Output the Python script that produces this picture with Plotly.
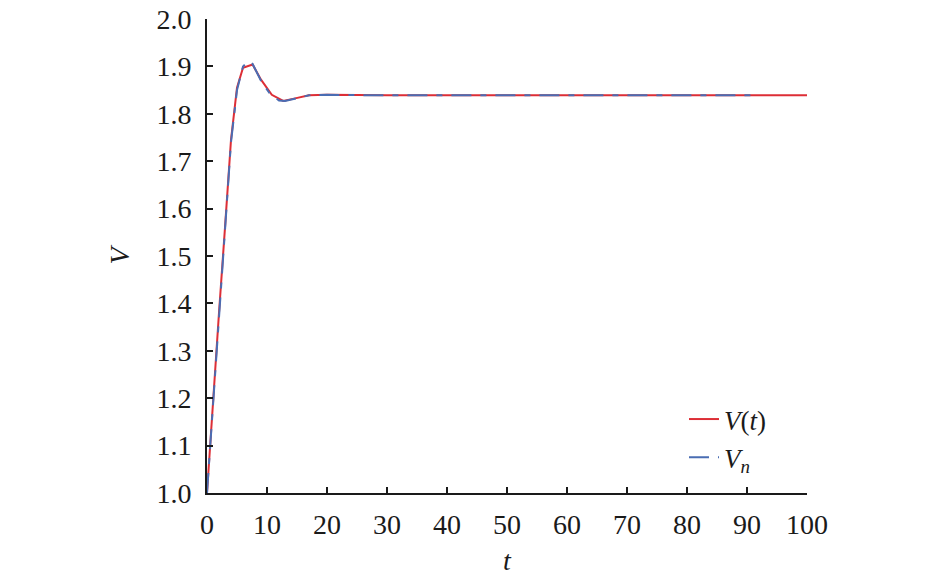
import plotly.graph_objects as go

# Red series V(t)
t_red = [0, 0.5, 1, 2, 3, 4, 5, 6, 7.6, 9, 10.8, 12.7, 14.5, 17, 20, 25, 30, 40, 50, 60, 70, 80, 90, 100]
v_red = [1.0, 1.098, 1.195, 1.38, 1.56, 1.745, 1.855, 1.897, 1.904, 1.872, 1.840, 1.827, 1.832, 1.839, 1.840, 1.839,
         1.839, 1.839, 1.839, 1.839, 1.839, 1.839, 1.839, 1.839]

# Blue series Vn
t_blue = [0, 1, 2, 3, 4, 5, 6, 6.9, 7.6, 9, 10.5, 12, 13, 15, 17, 20, 25, 30, 40, 50, 60, 70, 80, 92]
v_blue = [1.0, 1.19, 1.375, 1.56, 1.74, 1.85, 1.9, 1.911, 1.905, 1.87, 1.842, 1.828, 1.827, 1.833, 1.839, 1.840,
          1.839, 1.839, 1.839, 1.839, 1.839, 1.839, 1.839, 1.839]

x_ticks = [0, 10, 20, 30, 40, 50, 60, 70, 80, 90, 100]
y_ticks = [1.0, 1.1, 1.2, 1.3, 1.4, 1.5, 1.6, 1.7, 1.8, 1.9, 2.0]

FONT = "Liberation Serif"

fig = go.Figure()
fig.add_trace(go.Scatter(x=t_red, y=v_red, mode="lines", name="<i>V</i>(<i>t</i>)",
                         line=dict(color="#dd2e36", width=2)))
fig.add_trace(go.Scatter(x=t_blue, y=v_blue, mode="lines", name="<i>V</i><sub><i>n</i></sub>",
                         line=dict(color="#4a6db3", width=2, dash="20px,9px,6px,9px")))

axis_common = dict(
    showgrid=False, zeroline=False, showline=True, linecolor="#1a1a1a", linewidth=2,
    ticks="inside", ticklen=6, tickwidth=2, tickcolor="#1a1a1a", automargin=False,
    ticklabeloverflow="allow",
    tickfont=dict(family=FONT, size=28, color="#1a1a1a"),
)

fig.update_xaxes(range=[0, 100], tickvals=x_ticks, ticktext=[str(v) for v in x_ticks],
                 ticklabelstandoff=5,
                 title=dict(text="<i>t</i>", font=dict(family=FONT, size=28, color="#1a1a1a"), standoff=12),
                 **axis_common)
fig.update_yaxes(range=[1.0, 2.0], tickvals=y_ticks, ticktext=[f"{v:.1f}" for v in y_ticks],
                 ticklabelstandoff=8,
                 title=dict(text="<i>V</i>", font=dict(family=FONT, size=28, color="#1a1a1a"), standoff=19),
                 **axis_common)

fig.update_layout(
    width=945, height=579,
    margin=dict(l=207, r=138, t=19, b=86, autoexpand=False),
    paper_bgcolor="white", plot_bgcolor="white",
    showlegend=True,
    legend=dict(x=0.795, y=0.115, xanchor="left", yanchor="middle",
                font=dict(family=FONT, size=27, color="#1a1a1a"),
                bgcolor="rgba(0,0,0,0)", tracegroupgap=4),
)

fig.write_html("out.html", post_script="document.body.style.margin='0';",
               config={"displayModeBar": False})
